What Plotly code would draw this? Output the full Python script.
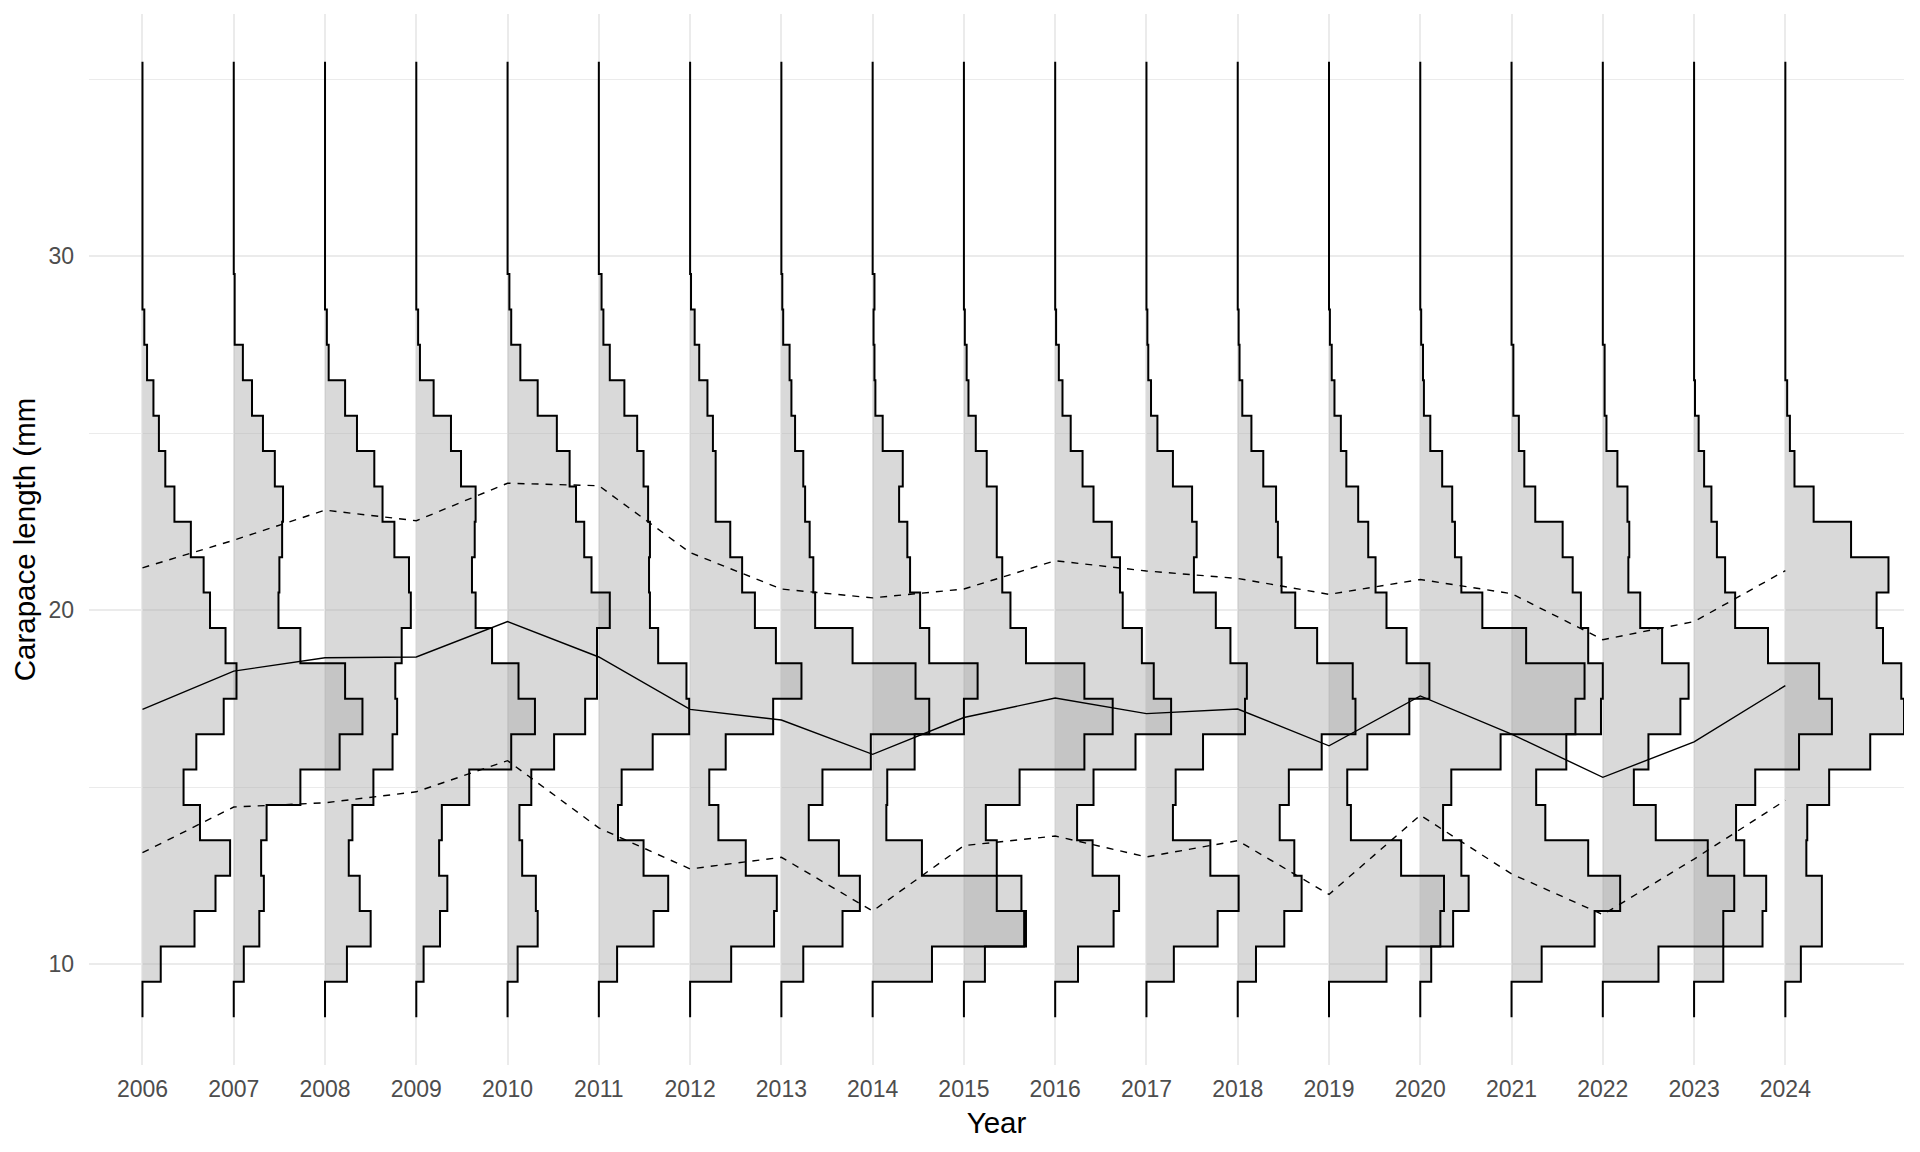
import plotly.graph_objects as go

# ---------------- data ----------------
YEARS = list(range(2006, 2025))
# size classes (mm): bin centres 9..35, bin width 1 mm
BIN_CENTRES = list(range(9, 36))

# percentage of catch per 1-mm size class, bins 9..35
pct_2006 = [0, 2.0, 5.7, 8.0, 9.6, 6.3, 4.5, 5.9, 8.9, 10.3, 9.1, 7.4, 6.7, 5.3, 3.5, 2.5, 1.8, 1.2, 0.5, 0.2, 0, 0, 0, 0, 0, 0, 0]
pct_2007 = [0, 1.1, 2.8, 3.3, 3.0, 3.6, 7.3, 11.6, 14.1, 12.2, 7.3, 4.9, 5.0, 5.3, 5.4, 4.5, 3.2, 2.0, 1.0, 0.1, 0.1, 0, 0, 0, 0, 0, 0]
pct_2008 = [0, 2.4, 5.0, 3.8, 2.6, 3.0, 5.3, 7.4, 7.9, 7.7, 8.4, 9.4, 9.2, 7.6, 6.3, 5.4, 3.5, 2.2, 0.4, 0.2, 0, 0, 0, 0, 0, 0, 0]
pct_2009 = [0, 0.8, 2.6, 3.4, 2.5, 2.8, 5.8, 10.4, 13.0, 11.2, 8.3, 6.5, 6.1, 6.4, 6.5, 4.9, 3.8, 1.9, 0.4, 0.2, 0, 0, 0, 0, 0, 0, 0]
pct_2010 = [0, 1.1, 3.3, 3.1, 1.6, 1.3, 2.6, 5.1, 8.5, 9.8, 9.8, 11.2, 9.2, 8.4, 7.5, 6.8, 5.4, 3.3, 1.4, 0.4, 0.2, 0, 0, 0, 0, 0, 0]
pct_2011 = [0, 2.0, 6.0, 7.6, 4.9, 2.1, 2.5, 5.9, 9.9, 9.6, 6.5, 5.6, 5.5, 5.6, 5.4, 4.9, 4.2, 2.8, 1.2, 0.5, 0.3, 0, 0, 0, 0, 0, 0]
pct_2012 = [0, 4.5, 9.2, 9.5, 6.1, 3.1, 2.1, 3.9, 9.1, 12.2, 9.4, 7.1, 5.7, 4.4, 2.8, 2.8, 2.5, 1.9, 1.0, 0.5, 0.1, 0, 0, 0, 0, 0, 0]
pct_2013 = [0, 2.4, 6.7, 8.6, 6.3, 3.0, 4.5, 9.8, 16.2, 14.7, 7.8, 3.7, 3.5, 3.1, 2.6, 2.4, 1.5, 1.1, 0.9, 0.2, 0.1, 0, 0, 0, 0, 0, 0]
pct_2014 = [0, 6.5, 16.6, 13.6, 5.4, 1.5, 1.6, 4.6, 10.0, 11.5, 6.2, 5.2, 4.1, 3.8, 2.9, 3.3, 1.1, 0.3, 0.2, 0.1, 0.2, 0, 0, 0, 0, 0, 0]
pct_2015 = [0, 2.3, 6.8, 6.3, 3.6, 2.4, 6.1, 13.2, 16.3, 13.2, 6.8, 5.1, 4.2, 3.6, 3.6, 2.5, 1.3, 0.5, 0.3, 0.1, 0, 0, 0, 0, 0, 0, 0]
pct_2016 = [0, 2.5, 6.4, 7.0, 4.1, 2.4, 4.2, 8.8, 12.7, 10.8, 9.5, 7.4, 7.1, 6.2, 4.2, 3.0, 1.7, 0.8, 0.4, 0.1, 0, 0, 0, 0, 0, 0, 0]
pct_2017 = [0, 3.0, 7.8, 10.1, 7.0, 2.9, 3.2, 6.2, 10.8, 11.0, 9.2, 7.6, 5.2, 5.5, 5.0, 2.9, 1.2, 0.5, 0.2, 0.1, 0, 0, 0, 0, 0, 0, 0]
pct_2018 = [0, 2.0, 5.1, 7.0, 6.2, 4.6, 5.6, 9.2, 12.9, 12.6, 8.7, 6.3, 4.8, 4.4, 4.2, 2.8, 1.5, 0.5, 0.2, 0.1, 0, 0, 0, 0, 0, 0, 0]
pct_2019 = [0, 6.3, 12.2, 12.6, 7.9, 2.4, 2.0, 4.2, 8.8, 11.0, 8.5, 6.3, 5.1, 4.3, 3.2, 1.9, 1.3, 0.6, 0.3, 0.1, 0, 0, 0, 0, 0, 0, 0]
pct_2020 = [0, 1.2, 3.6, 5.3, 4.5, 2.5, 3.4, 8.8, 17.0, 18.0, 11.6, 6.8, 4.5, 3.8, 3.5, 2.4, 1.1, 0.4, 0.3, 0.1, 0, 0, 0, 0, 0, 0, 0]
pct_2021 = [0, 3.3, 9.1, 11.9, 8.4, 3.7, 2.7, 6.0, 9.8, 10.0, 8.4, 7.6, 6.7, 5.6, 2.6, 1.4, 0.8, 0.2, 0.2, 0, 0, 0, 0, 0, 0, 0, 0]
pct_2022 = [0, 6.1, 13.2, 14.4, 11.5, 5.8, 3.4, 5.0, 8.5, 9.4, 6.5, 4.1, 2.8, 2.9, 2.7, 1.6, 0.4, 0.2, 0.2, 0, 0, 0, 0, 0, 0, 0, 0]
pct_2023 = [0, 3.2, 7.5, 7.9, 5.5, 4.6, 6.7, 11.5, 15.1, 13.7, 8.1, 4.5, 3.4, 2.5, 1.9, 1.1, 0.5, 0.1, 0, 0, 0, 0, 0, 0, 0, 0, 0]
pct_2024 = [0, 1.7, 4.0, 4.0, 2.3, 2.4, 4.8, 9.3, 13.0, 12.7, 10.7, 10.0, 11.3, 7.2, 3.1, 1.0, 0.5, 0.2, 0.0, 0.0, 0, 0, 0, 0, 0, 0, 0]

# mean and spread lines (mm)
mean_cl = [17.2, 18.28, 18.66, 18.68, 19.68, 18.68, 17.2, 16.9, 15.93, 16.97, 17.52, 17.08, 17.21, 16.17, 17.58, 16.5, 15.28, 16.28, 17.87]
upper_cl = [21.2, 21.98, 22.83, 22.53, 23.59, 23.52, 21.63, 20.6, 20.35, 20.6, 21.4, 21.11, 20.9, 20.45, 20.87, 20.47, 19.17, 19.68, 21.12]
lower_cl = [13.15, 14.44, 14.56, 14.87, 15.75, 13.85, 12.69, 13.02, 11.5, 13.35, 13.62, 13.03, 13.49, 11.97, 14.21, 12.55, 11.4, 12.97, 14.63]

YEAR_TICKS = [str(y) for y in YEARS]

PCT_BY_YEAR = {
    2006: pct_2006, 2007: pct_2007, 2008: pct_2008, 2009: pct_2009, 2010: pct_2010,
    2011: pct_2011, 2012: pct_2012, 2013: pct_2013, 2014: pct_2014, 2015: pct_2015,
    2016: pct_2016, 2017: pct_2017, 2018: pct_2018, 2019: pct_2019, 2020: pct_2020,
    2021: pct_2021, 2022: pct_2022, 2023: pct_2023, 2024: pct_2024,
}

# ---------------- figure ----------------
PCT_TO_YEARS = 0.1      # horizontal scale: 10 % of catch = 1 year of axis width
HALF_BIN = 0.5

FILL = "rgba(175,175,175,0.47)"
FONT = "Liberation Sans, Arial, sans-serif"


def step_path(year, pct):
    xs, ys = [year], [BIN_CENTRES[0] - HALF_BIN]
    for c, p in zip(BIN_CENTRES, pct):
        w = year + p * PCT_TO_YEARS
        xs += [w, w]
        ys += [c - HALF_BIN, c + HALF_BIN]
    xs.append(year)
    ys.append(BIN_CENTRES[-1] + HALF_BIN)
    return xs, ys


fig = go.Figure()

paths = {y: step_path(y, PCT_BY_YEAR[y]) for y in YEARS}

# fills first
for y in YEARS:
    xs, ys = paths[y]
    fig.add_trace(go.Scatter(x=xs, y=ys, mode="lines", fill="toself", fillcolor=FILL,
                             line=dict(width=0, color="rgba(0,0,0,0)"),
                             hoverinfo="skip", showlegend=False))
# outlines
for y in YEARS:
    xs, ys = paths[y]
    fig.add_trace(go.Scatter(x=xs, y=ys, mode="lines",
                             line=dict(color="black", width=2),
                             name=str(y), showlegend=False))

fig.add_trace(go.Scatter(x=YEARS, y=mean_cl, mode="lines",
                         line=dict(color="black", width=1.4), showlegend=False, name="mean"))
fig.add_trace(go.Scatter(x=YEARS, y=upper_cl, mode="lines",
                         line=dict(color="black", width=1.4, dash="7px,7px"), showlegend=False, name="upper"))
fig.add_trace(go.Scatter(x=YEARS, y=lower_cl, mode="lines",
                         line=dict(color="black", width=1.4, dash="7px,7px"), showlegend=False, name="lower"))

# the page body adds an 8px margin, so the figure is sized and placed to compensate
fig.update_layout(
    width=1912, height=1144,
    margin=dict(l=81, r=16, t=6, b=87),
    paper_bgcolor="white", plot_bgcolor="white",
    font=dict(family=FONT),
    showlegend=False,
)
fig.update_xaxes(
    range=[2005.414, 2025.30],
    tickmode="array", tickvals=YEARS, ticktext=YEAR_TICKS,
    showgrid=True, gridcolor="#ebebeb", gridwidth=1.6,
    zeroline=False, showline=False, ticks="",
    ticklabelstandoff=8,
    tickfont=dict(size=23, color="#4d4d4d", family=FONT),
    title=dict(text="Year", font=dict(size=29.5, color="black", family=FONT), standoff=11),
    automargin=False,
)
fig.update_yaxes(
    range=[7.15, 36.85],
    tickmode="array", tickvals=[10, 20, 30],
    showgrid=True, gridcolor="#ebebeb", gridwidth=1.6,
    minor=dict(tickvals=[15, 25, 35], showgrid=True, gridcolor="#ebebeb", gridwidth=0.8, ticks=""),
    zeroline=False, showline=False, ticks="",
    ticklabelstandoff=14,
    tickfont=dict(size=23, color="#4d4d4d", family=FONT),
    title=dict(text="Carapace length (mm", font=dict(size=29.5, color="black", family=FONT), standoff=6),
    automargin=False,
)

fig.write_html("out.html")
